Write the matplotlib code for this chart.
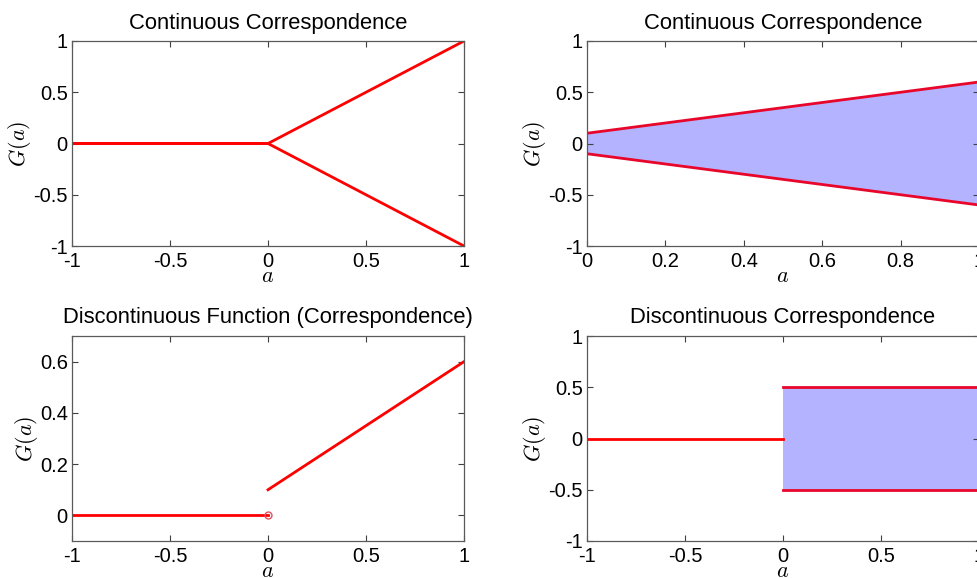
import matplotlib
matplotlib.use("Agg")
import matplotlib.pyplot as plt
from matplotlib.ticker import FuncFormatter

plt.rcParams['font.family'] = ['Liberation Sans', 'DejaVu Sans']
plt.rcParams['mathtext.fontset'] = 'cm'
plt.rcParams['axes.unicode_minus'] = False

# ---- data ----
# top-left: continuous correspondence (branching)
tl_x = [-1, 0, 1]
tl_upper = [0, 0, 1]
tl_lower = [0, 0, -1]

# top-right: continuous correspondence (band)
tr_x = [0, 1]
tr_upper = [0.1, 0.6]
tr_lower = [-0.1, -0.6]

# bottom-left: discontinuous function
bl_left_x = [-1, 0]
bl_left_y = [0, 0]
bl_right_x = [0, 1]
bl_right_y = [0.1, 0.6]
bl_open_x = [0]
bl_open_y = [0]

# bottom-right: discontinuous correspondence
br_left_x = [-1, 0]
br_left_y = [0, 0]
br_band_x = [0, 1]
br_upper = [0.5, 0.5]
br_lower = [-0.5, -0.5]

titles = ["Continuous Correspondence", "Continuous Correspondence",
          "Discontinuous Function (Correspondence)", "Discontinuous Correspondence"]

RED = '#ff0000'
EDGE = '#e8062a'
FILL = '#b3b3ff'
LW = 2.0

W, H = 978, 578
fig = plt.figure(figsize=(W / 100, H / 100), dpi=100)


def mk_axes(x0, x1, ytop, ybot):
    return fig.add_axes([x0 / W, 1 - ybot / H, (x1 - x0) / W, (ybot - ytop) / H])


fmt = FuncFormatter(lambda v, p: ('%g' % v) if abs(v) > 1e-12 else '0')


def style(ax, title, xlim, ylim, xticks, yticks):
    ax.set_xlim(*xlim)
    ax.set_ylim(*ylim)
    ax.set_xticks(xticks)
    ax.set_yticks(yticks)
    ax.xaxis.set_major_formatter(fmt)
    ax.yaxis.set_major_formatter(fmt)
    ax.tick_params(direction='in', top=True, right=True, length=4, width=0.8,
                   color='#404040', labelsize=14.5, pad=3)
    ax.tick_params(axis='x', pad=4)
    for s in ax.spines.values():
        s.set_color('#5a5a5a')
        s.set_linewidth(0.9)
    ax.set_title(title, fontsize=15.8, pad=9)
    ax.set_xlabel('$a$', fontsize=16, labelpad=-3)
    ax.set_ylabel('$G(a)$', fontsize=16, labelpad=0)


# top-left
ax1 = mk_axes(72, 464, 41, 246)
ax1.plot(tl_x, tl_upper, color=RED, lw=LW)
ax1.plot(tl_x, tl_lower, color=RED, lw=LW)
style(ax1, titles[0], (-1, 1), (-1, 1), [-1, -0.5, 0, 0.5, 1], [-1, -0.5, 0, 0.5, 1])

# top-right
ax2 = mk_axes(587, 979, 41, 246)
ax2.fill_between(tr_x, tr_lower, tr_upper, color=FILL, lw=0)
ax2.plot(tr_x, tr_upper, color=EDGE, lw=LW)
ax2.plot(tr_x, tr_lower, color=EDGE, lw=LW)
style(ax2, titles[1], (0, 1), (-1, 1), [0, 0.2, 0.4, 0.6, 0.8, 1], [-1, -0.5, 0, 0.5, 1])

# bottom-left
ax3 = mk_axes(72, 464, 336, 541)
ax3.plot(bl_left_x, bl_left_y, color=RED, lw=LW)
ax3.plot(bl_right_x, bl_right_y, color=RED, lw=LW)
ax3.plot(bl_open_x, bl_open_y, 'o', mfc='none', mec='#e05060', ms=5, mew=1.0)
style(ax3, titles[2], (-1, 1), (-0.1, 0.7), [-1, -0.5, 0, 0.5, 1], [0, 0.2, 0.4, 0.6])

# bottom-right
ax4 = mk_axes(587, 979, 336, 541)
ax4.fill_between(br_band_x, br_lower, br_upper, color=FILL, lw=0)
ax4.plot(br_left_x, br_left_y, color=RED, lw=LW)
ax4.plot(br_band_x, br_upper, color=EDGE, lw=LW)
ax4.plot(br_band_x, br_lower, color=EDGE, lw=LW)
style(ax4, titles[3], (-1, 1), (-1, 1), [-1, -0.5, 0, 0.5, 1], [-1, -0.5, 0, 0.5, 1])

fig.savefig('out.png', dpi=100)
